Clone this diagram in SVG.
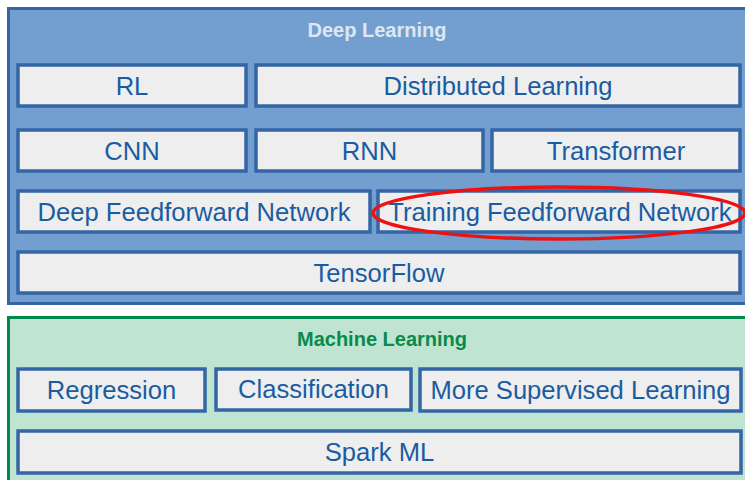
<svg xmlns="http://www.w3.org/2000/svg" width="745" height="480" viewBox="0 0 745 480">
<style>
.box{fill:#eeeeee;stroke:#3465a4;stroke-width:3.5}
.t{font-family:"Liberation Sans",Arial,sans-serif;font-size:25.6px;fill:#1a5ca2;text-anchor:middle}
.title{font-family:"Liberation Sans",Arial,sans-serif;font-size:20px;font-weight:bold;text-anchor:middle}
</style>
<rect width="745" height="480" fill="#ffffff"/>
<g id="deep-learning">
<rect x="8.5" y="8.5" width="745" height="295" fill="#729fcf" stroke="#3465a4" stroke-width="3"/>
<text class="title" x="377" y="37" fill="#dce7f3">Deep Learning</text>
</g>
<g id="rl"><rect class="box" x="18" y="65" width="228" height="41"/><text class="t" x="132" y="95">RL</text></g>
<g id="distributed"><rect class="box" x="256" y="65" width="484" height="41"/><text class="t" x="498" y="95">Distributed Learning</text></g>
<g id="cnn"><rect class="box" x="18" y="130" width="228" height="41"/><text class="t" x="132" y="160">CNN</text></g>
<g id="rnn"><rect class="box" x="256" y="130" width="227" height="41"/><text class="t" x="369.5" y="160">RNN</text></g>
<g id="transformer"><rect class="box" x="492" y="130" width="248" height="41"/><text class="t" x="616" y="160">Transformer</text></g>
<g id="deepff"><rect class="box" x="18" y="191" width="352" height="41"/><text class="t" x="194" y="221">Deep Feedforward Network</text></g>
<g id="trainff"><rect class="box" x="378" y="191" width="362" height="41"/><text class="t" x="560" y="221">Training Feedforward Network</text></g>
<g id="tensorflow"><rect class="box" x="18" y="252" width="722" height="41"/><text class="t" x="379" y="282">TensorFlow</text></g>
<g id="highlight"><ellipse cx="559" cy="213" rx="186" ry="26" fill="none" stroke="#ee1111" stroke-width="3.5"/></g>
<g id="machine-learning">
<rect x="8.5" y="317.5" width="745" height="175" fill="#c0e4d2" stroke="#00894a" stroke-width="3"/>
<text class="title" x="382" y="346" fill="#0a8a4a">Machine Learning</text>
</g>
<g id="regression"><rect class="box" x="18" y="369" width="187" height="42"/><text class="t" x="111.5" y="399">Regression</text></g>
<g id="classification"><rect class="box" x="216" y="369" width="195" height="41"/><text class="t" x="313.5" y="398">Classification</text></g>
<g id="moresup"><rect class="box" x="420" y="369" width="321" height="42"/><text class="t" x="580.5" y="399">More Supervised Learning</text></g>
<g id="sparkml"><rect class="box" x="18" y="431" width="723" height="42"/><text class="t" x="379.5" y="461">Spark ML</text></g>
<g id="connectors"></g>
</svg>
